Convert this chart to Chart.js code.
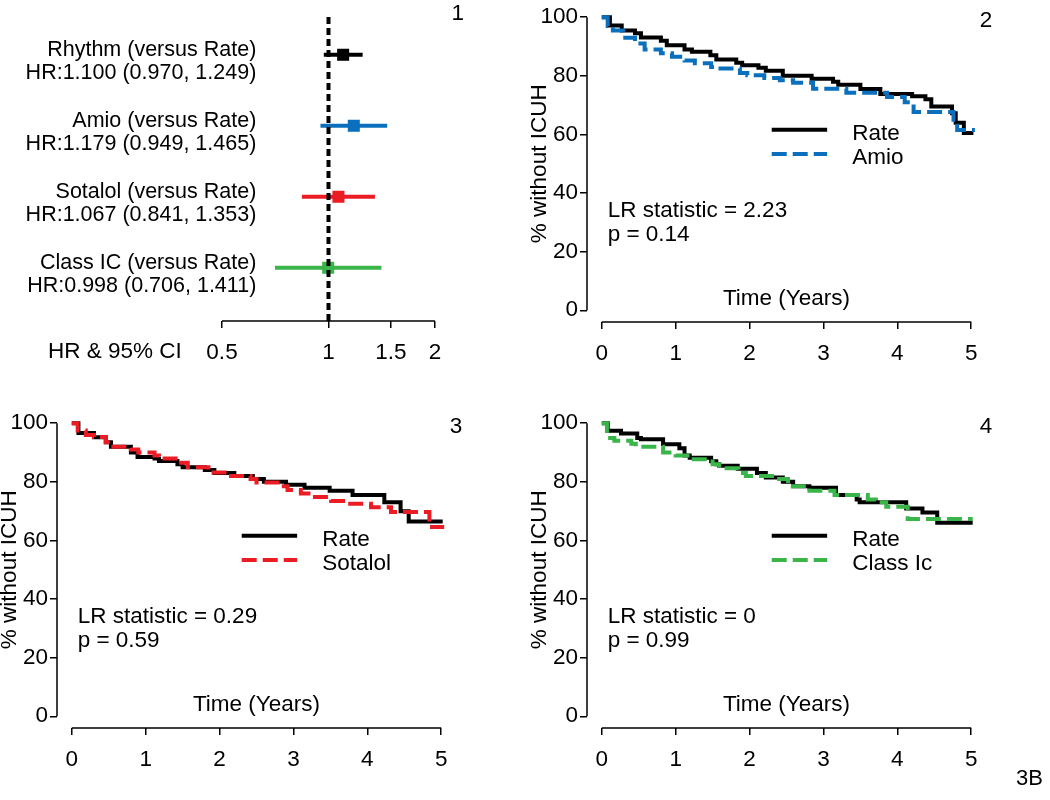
<!DOCTYPE html>
<html>
<head>
<meta charset="utf-8">
<script src="https://cdn.jsdelivr.net/npm/chart.js@4.4.1/dist/chart.umd.min.js"></script>
<style>
  html, body { margin: 0; padding: 0; background: #fff; }
  body { width: 1050px; height: 800px; position: relative; overflow: hidden; font-family: "Liberation Sans", Arial, sans-serif; }
  .panel { position: absolute; }
  #tag { position: absolute; left: 1016px; top: 765px; font-size: 22px; color: #000; }
</style>
</head>
<body>
<div class="panel" style="left:0px;top:0px"><canvas id="forest" width="480" height="390"></canvas></div>
<div class="panel" style="left:500px;top:-10px"><canvas id="km2" width="525" height="380"></canvas></div>
<div class="panel" style="left:-30px;top:396px"><canvas id="km3" width="525" height="380"></canvas></div>
<div class="panel" style="left:500px;top:396px"><canvas id="km4" width="525" height="380"></canvas></div>
<div id="tag">3B</div>
<script>
// forest plot (panel 1)
const groupNames = ["Rhythm", "Amio", "Sotalol", "Class IC"];
const hrEst = [1.100, 1.179, 1.067, 0.998];
const hrLow = [0.970, 0.949, 0.841, 0.706];
const hrHigh = [1.249, 1.465, 1.353, 1.411];
const groupRows = [4, 3, 2, 1];
const groupColors = ["#000000", "#0a70bd", "#ec1c24", "#3ab54a"];
const hrTicks = [0.5, 1, 1.5, 2];

// Kaplan-Meier curves (panels 2-4), time in years / % without ICUH
const kmTimeTicks = [0, 1, 2, 3, 4, 5];
const kmPctTicks = [0, 20, 40, 60, 80, 100];

const rateT2 = [0, 0.11, 0.27, 0.45, 0.53, 0.8, 0.88, 1.12, 1.22, 1.47, 1.55, 1.82, 1.9, 2.12, 2.22, 2.45, 2.84, 3.13, 3.2, 3.5, 3.77, 4.2, 4.38, 4.46, 4.74, 4.79, 4.9, 5.03];
const rateS2 = [100, 97.2, 95.5, 94.5, 93.1, 92, 90.4, 89, 88.2, 87, 85.6, 84.5, 83.6, 82.8, 81.7, 80, 79, 78, 77, 75.5, 73.8, 73, 72, 69.5, 67.2, 64, 60.5, 60.5];
const amioT = [0, 0.08, 0.15, 0.29, 0.45, 0.58, 0.8, 0.95, 1.12, 1.26, 1.48, 1.57, 1.87, 1.97, 2.2, 2.41, 2.59, 2.86, 3.31, 3.86, 4.1, 4.22, 4.76, 4.81, 5.05];
const amioS = [100, 97, 95.5, 93, 91, 89, 87.7, 86.5, 85.2, 84.3, 83, 82.5, 81, 80.2, 79.3, 78.5, 77.6, 75.6, 74.2, 72.8, 71, 67.7, 65, 61.5, 61.5];

const rateT3 = [0, 0.09, 0.3, 0.46, 0.53, 0.8, 0.89, 1.12, 1.18, 1.43, 1.5, 1.8, 1.93, 2.2, 2.45, 2.6, 2.9, 3.15, 3.49, 3.8, 4.23, 4.45, 4.56, 5.02];
const rateS3 = [100, 96.7, 95.2, 93.5, 92, 90, 88.5, 88, 87.1, 86, 85, 84, 83, 82, 81, 80, 79, 78, 77, 75.5, 73, 70, 66.5, 66.5];
const sotalolT = [0, 0.08, 0.19, 0.3, 0.46, 0.53, 0.8, 0.9, 1.12, 1.18, 1.45, 1.57, 1.85, 2.12, 2.42, 2.5, 2.83, 2.92, 3.1, 3.24, 3.51, 3.73, 4.05, 4.32, 4.84, 5.04];
const sotalolS = [100, 97.5, 96, 95.3, 93.5, 92, 91, 90, 89, 88, 86.5, 85, 83.2, 82, 81, 79.8, 78.5, 77.2, 76, 74.8, 73.5, 72.5, 71.3, 69.7, 64.6, 64.6];

const rateT4 = [0, 0.08, 0.26, 0.48, 0.53, 0.83, 1.05, 1.12, 1.19, 1.48, 1.55, 1.59, 1.84, 2.1, 2.22, 2.45, 2.59, 2.81, 3.17, 3.45, 3.49, 4.12, 4.34, 4.54, 5.02];
const rateS4 = [100, 97.4, 96.5, 95, 94.5, 92.8, 91.5, 89, 88.2, 87, 86, 85.5, 84.5, 83, 81.5, 80, 78.5, 78, 75.5, 74, 73, 70.9, 69.5, 66, 66];
const classT = [0, 0.07, 0.17, 0.4, 0.46, 0.83, 1.0, 1.16, 1.5, 1.59, 1.85, 1.95, 2.4, 2.52, 2.81, 3.15, 3.6, 3.71, 3.85, 4.14, 5.02];
const classS = [100, 95, 94, 93, 92, 90, 89, 87.7, 86, 84.6, 83, 82, 81, 78.5, 77, 75.5, 74, 73, 71.5, 67.3, 67.3];

const lrStats = ["2.23", "0.29", "0"];
const pValues = ["0.14", "0.59", "0.99"];

const FONT = '"Liberation Sans", Arial, sans-serif';
Chart.defaults.font.family = FONT;
Chart.defaults.font.size = 22.5;
Chart.defaults.color = "#000";

const setTicks = (list) => (axis) => {
  axis.ticks = list.map((v) => ({ value: v }));
};

const tickGrid = {
  drawOnChartArea: false,
  drawTicks: true,
  tickLength: 7,
  color: "#000",
  lineWidth: 1.5,
};

// R style axis lines: only from first to last tick
const axisLines = {
  id: "axisLines",
  afterDraw(chart) {
    const { ctx, chartArea, scales } = chart;
    ctx.save();
    ctx.strokeStyle = "#000";
    ctx.lineWidth = 1.5;
    ctx.beginPath();
    const x = scales.x;
    const xt = x.ticks;
    ctx.moveTo(x.getPixelForValue(xt[0].value), chartArea.bottom);
    ctx.lineTo(x.getPixelForValue(xt[xt.length - 1].value), chartArea.bottom);
    const y = scales.y;
    if (y.options.display) {
      const yt = y.ticks;
      ctx.moveTo(chartArea.left, y.getPixelForValue(yt[0].value));
      ctx.lineTo(chartArea.left, y.getPixelForValue(yt[yt.length - 1].value));
    }
    ctx.stroke();
    ctx.restore();
  },
};

const forestText = {
  id: "forestText",
  afterDraw(chart) {
    const { ctx, chartArea, scales: { x, y } } = chart;
    ctx.save();
    ctx.fillStyle = "#000";
    ctx.textBaseline = "middle";
    ctx.textAlign = "right";
    ctx.font = "21.5px " + FONT;
    const lx = x.getPixelForValue(0.625);
    groupNames.forEach((name, i) => {
      const py = y.getPixelForValue(groupRows[i]);
      ctx.fillText(name + " (versus Rate)", lx, py - 5);
      ctx.fillText(
        "HR:" + hrEst[i].toFixed(3) + " (" + hrLow[i].toFixed(3) + ", " + hrHigh[i].toFixed(3) + ")",
        lx,
        py + 18
      );
    });
    ctx.font = "22.5px " + FONT;
    ctx.textAlign = "center";
    ctx.fillText("HR & 95% CI", x.getPixelForValue(0.249), chartArea.bottom + 31);
    ctx.fillText("1", x.getPixelForValue(2.32), chartArea.top - 1);
    ctx.restore();
  },
};

const kmText = {
  id: "kmText",
  afterDraw(chart) {
    const { ctx, scales: { x, y } } = chart;
    const p = chart.options.plugins.kmText;
    ctx.save();
    ctx.fillStyle = "#000";
    ctx.font = "22.5px " + FONT;
    ctx.textBaseline = "middle";
    ctx.textAlign = "center";
    ctx.fillText(p.num, x.getPixelForValue(5.2), y.getPixelForValue(98.8));
    ctx.fillText("Time (Years)", x.getPixelForValue(2.5), y.getPixelForValue(4));
    ctx.textAlign = "left";
    ctx.fillText("LR statistic = " + p.lr, x.getPixelForValue(0.08), y.getPixelForValue(33.8));
    ctx.fillText("p = " + p.p, x.getPixelForValue(0.08), y.getPixelForValue(25.8));
    // legend: Rate first, then the drug
    const items = [chart.data.datasets[1], chart.data.datasets[0]];
    const lineY = [61.6, 53.3];
    const textY = [60.2, 52.2];
    items.forEach((ds, i) => {
      ctx.save();
      ctx.strokeStyle = ds.borderColor;
      ctx.lineWidth = ds.borderWidth;
      ctx.setLineDash(ds.borderDash || []);
      ctx.beginPath();
      ctx.moveTo(x.getPixelForValue(2.3), y.getPixelForValue(lineY[i]));
      ctx.lineTo(x.getPixelForValue(3.05), y.getPixelForValue(lineY[i]));
      ctx.stroke();
      ctx.restore();
      ctx.fillText(ds.label, x.getPixelForValue(3.39), y.getPixelForValue(textY[i]));
    });
    ctx.restore();
  },
};

const toPoints = (ts, vs) => ts.map((t, i) => ({ x: t, y: vs[i] }));

// forest plot
new Chart(document.getElementById("forest"), {
  type: "line",
  data: {
    datasets: [
      {
        label: "HR = 1",
        data: [{ x: 1, y: 0.25 }, { x: 1, y: 4.56 }],
        borderColor: "#000",
        borderWidth: 4,
        borderDash: [7, 4],
        pointRadius: 0,
      },
    ].concat(
      groupNames.map((name, i) => ({
        label: name,
        data: [
          { x: hrLow[i], y: groupRows[i] },
          { x: hrEst[i], y: groupRows[i] },
          { x: hrHigh[i], y: groupRows[i] },
        ],
        borderColor: groupColors[i],
        borderWidth: 4,
        pointStyle: "rect",
        pointRadius: [0, 8.5, 0],
        pointBorderWidth: 0,
        pointBackgroundColor: groupColors[i],
      }))
    ),
  },
  options: {
    responsive: false,
    animation: false,
    events: [],
    layout: { padding: { left: 222, right: 45, top: 15, bottom: 0 } },
    plugins: { legend: { display: false }, tooltip: { enabled: false } },
    scales: {
      x: {
        type: "logarithmic",
        min: 0.5,
        max: 2,
        afterBuildTicks: setTicks(hrTicks),
        afterFit: (s) => { s.height = 69; },
        grid: tickGrid,
        border: { display: false },
        ticks: { padding: 11, maxRotation: 0, autoSkip: false, callback: (v) => String(v) },
      },
      y: { type: "linear", min: 0.25, max: 4.56, display: false },
    },
  },
  plugins: [axisLines, forestText],
});

function kmChart(id, panel) {
  return new Chart(document.getElementById(id), {
    type: "line",
    data: {
      datasets: [
        {
          label: panel.drug,
          data: toPoints(panel.drugT, panel.drugS),
          borderColor: panel.color,
          borderWidth: 4,
          borderDash: [15, 6],
          stepped: true,
          pointRadius: 0,
        },
        {
          label: "Rate",
          data: toPoints(panel.rateT, panel.rateS),
          borderColor: "#000",
          borderWidth: 4,
          stepped: true,
          pointRadius: 0,
        },
      ],
    },
    options: {
      responsive: false,
      animation: false,
      events: [],
      layout: { padding: { left: 0, right: 39, top: 8, bottom: 0 } },
      plugins: {
        legend: { display: false },
        tooltip: { enabled: false },
        kmText: { num: panel.num, lr: panel.lr, p: panel.p },
      },
      scales: {
        x: {
          type: "linear",
          min: -0.2,
          max: 5.2,
          afterBuildTicks: setTicks(kmTimeTicks),
          afterFit: (s) => { s.height = 48; },
          grid: tickGrid,
          border: { display: false },
          ticks: { padding: 11, maxRotation: 0, autoSkip: false, callback: (v) => String(v) },
        },
        y: {
          type: "linear",
          min: -4,
          max: 104,
          afterBuildTicks: setTicks(kmPctTicks),
          afterFit: (s) => { s.width = 87; },
          grid: tickGrid,
          border: { display: false },
          ticks: { padding: 2, autoSkip: false, callback: (v) => String(v) },
          title: {
            display: true,
            text: "% without ICUH",
            font: { size: 22.5, lineHeight: 1 },
            padding: { top: 29, bottom: 0 },
          },
        },
      },
    },
    plugins: [axisLines, kmText],
  });
}

kmChart("km2", { num: "2", drug: "Amio", color: "#0a70bd", drugT: amioT, drugS: amioS, rateT: rateT2, rateS: rateS2, lr: lrStats[0], p: pValues[0] });
kmChart("km3", { num: "3", drug: "Sotalol", color: "#ec1c24", drugT: sotalolT, drugS: sotalolS, rateT: rateT3, rateS: rateS3, lr: lrStats[1], p: pValues[1] });
kmChart("km4", { num: "4", drug: "Class Ic", color: "#3ab54a", drugT: classT, drugS: classS, rateT: rateT4, rateS: rateS4, lr: lrStats[2], p: pValues[2] });
</script>
</body>
</html>
